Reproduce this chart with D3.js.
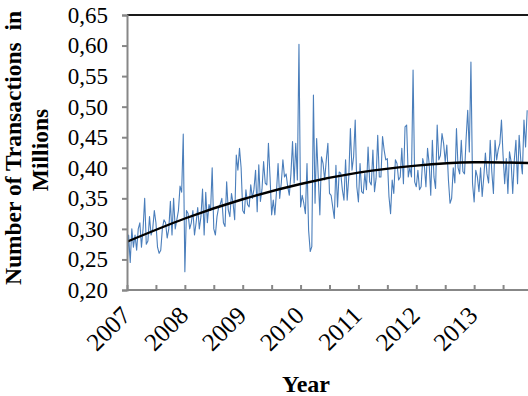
<!DOCTYPE html>
<html>
<head>
<meta charset="utf-8">
<script src="https://cdn.jsdelivr.net/npm/d3@7"></script>
<style>
  html, body { margin: 0; padding: 0; background: #fff; }
  svg text { font-family: 'Liberation Serif', 'Times New Roman', 'DejaVu Serif', serif !important; }
</style>
</head>
<body>
<svg id="chart" width="528" height="396"></svg>
<script>
// ---- data ----
const startYear = 2007;
const samplesPerYear = 36; // three readings per month
const transactions = [
  // 2007
  0.236,0.29,0.245,0.30,0.27,0.29,0.265,0.30,0.31,0.27,
  0.30,0.35,0.275,0.28,0.32,0.29,0.30,0.33,0.31,0.27,
  0.26,0.265,0.30,0.315,0.31,0.285,0.30,0.345,0.29,0.35,
  0.30,0.315,0.33,0.37,0.36,0.455,
  // 2008
  0.23,0.33,0.325,0.30,0.31,0.33,0.29,0.31,0.335,0.30,
  0.32,0.365,0.29,0.36,0.31,0.34,0.33,0.40,0.30,0.29,
  0.32,0.335,0.34,0.35,0.31,
  0.304,0.377,0.331,0.32,0.358,0.342,0.315,0.421,0.396,0.432,
  0.40,
  // 2009
  0.33,0.325,0.364,0.34,0.336,0.372,0.35,0.365,0.396,
  0.328,0.405,0.345,0.365,0.41,0.375,0.372,0.44,0.385,0.323,
  0.347,0.323,0.36,0.407,0.35,0.375,0.413,0.385,0.39,0.369,
  0.355,0.39,0.443,0.375,0.44,0.38,0.602,
  // 2010
  0.336,0.355,0.342,
  0.325,0.407,0.298,0.263,0.271,0.519,0.342,0.448,0.385,0.323,
  0.418,0.407,
  0.38,0.413,0.44,0.358,0.355,0.336,0.317,0.404,0.336,0.393,
  0.391,0.364,0.347,0.413,0.347,0.385,0.464,0.396,0.418,0.478,
  0.369,
  // 2011
  0.344,0.407,0.361,0.358,0.391,0.364,0.434,0.377,0.372,
  0.429,0.361,0.383,0.453,0.385,0.385,0.451,0.429,0.413,0.415,
  0.353,0.325,0.38,0.358,0.413,0.407,0.38,0.385,0.432,0.374,
  0.467,0.47,0.385,0.40,0.385,0.56,0.377,
  // 2012
  0.369,0.396,0.364,0.369,0.415,0.404,
  0.369,0.432,0.407,0.355,0.445,0.385,0.366,0.47,0.413,0.42,
  0.456,0.44,0.41,0.437,0.38,0.342,0.35,0.40,0.375,0.464,
  0.40,0.39,0.445,0.394,0.39,0.448,0.494,0.426,0.573,0.374,
  // 2013
  0.344,0.396,0.385,0.361,0.40,0.353,0.385,0.424,0.39,0.375,
  0.445,0.393,0.358,0.445,0.413,0.43,0.44,0.478,0.42,0.374,
  0.415,0.358,0.426,0.41,0.358,0.413,0.445,0.374,0.453,0.413,
  0.39,0.478,0.434,0.494
];
// polynomial trend read at each year start
const trendYears  = [2007, 2008, 2009, 2010, 2011, 2012, 2013, 2014];
const trendValues = [0.279, 0.317, 0.3485, 0.3735, 0.392, 0.4035, 0.409, 0.4075];
const yearLabels = [2007, 2008, 2009, 2010, 2011, 2012, 2013];
const minorTicks = [2007, 2007.5, 2008, 2008.5, 2009, 2009.5, 2010, 2010.5, 2011, 2011.5, 2012, 2012.5, 2013, 2013.5];
const yTicks = [0.20, 0.25, 0.30, 0.35, 0.40, 0.45, 0.50, 0.55, 0.60, 0.65];
const yTitle1 = "Number of Transactions  in";
const yTitle2 = "Millions";
const xTitle = "Year";

// ---- layout ----
const svg = d3.select("#chart");
const padL = 127, padT = 15, padB = 290, padR = 528;
const x = d3.scaleLinear().domain([2007, 2014]).range([padL, 532]);
const y = d3.scaleLinear().domain([0.20, 0.65]).range([padB, padT]);

svg.append("defs").append("clipPath").attr("id", "plotclip")
  .append("rect").attr("x", padL).attr("y", padT - 2).attr("width", padR - padL).attr("height", padB - padT + 4);

const axisColor = "#878787";

// top border
svg.append("line").attr("x1", padL).attr("x2", padR).attr("y1", y(0.65)).attr("y2", y(0.65))
  .attr("stroke", "#1a1a1a").attr("stroke-width", 1.8);

// data series
const pts = transactions.map((v, i) => [startYear + i / samplesPerYear, v]);
svg.append("path")
  .datum(pts)
  .attr("clip-path", "url(#plotclip)")
  .attr("fill", "none")
  .attr("stroke", "#4a7ebb")
  .attr("stroke-width", 1.1)
  .attr("stroke-linejoin", "round")
  .attr("d", d3.line().x(d => x(d[0])).y(d => y(d[1])));

// trend line
svg.append("path")
  .datum(trendYears.map((t, i) => [t, trendValues[i]]))
  .attr("clip-path", "url(#plotclip)")
  .attr("fill", "none")
  .attr("stroke", "#000")
  .attr("stroke-width", 2.4)
  .attr("d", d3.line().curve(d3.curveNatural).x(d => x(d[0])).y(d => y(d[1])));

// y axis
const yAxis = svg.append("g").attr("transform", `translate(${padL},0)`)
  .call(d3.axisLeft(y).tickValues(yTicks).tickSize(5).tickPadding(14)
    .tickFormat(d => d3.format(".2f")(d).replace(".", ",")));
yAxis.attr("font-family", null);
yAxis.select(".domain").attr("stroke", axisColor).attr("stroke-width", 2);
yAxis.selectAll(".tick line").attr("stroke", axisColor).attr("stroke-width", 2);
yAxis.selectAll(".tick text").attr("font-size", 23).attr("fill", "#000");

// x axis (ticks point inward)
const xAxis = svg.append("g").attr("transform", `translate(0,${padB})`)
  .call(d3.axisBottom(x).tickValues(minorTicks).tickSizeInner(-5).tickSizeOuter(0).tickFormat(""));
xAxis.select(".domain").attr("stroke", axisColor).attr("stroke-width", 2)
  .attr("d", `M${padL},0H${padR}`);
xAxis.selectAll(".tick line").attr("stroke", axisColor).attr("stroke-width", 2);

// x labels
svg.append("g").selectAll("text").data(yearLabels).join("text")
  .attr("transform", d => `translate(${x(d) + 5},${padB + 27}) rotate(-45)`)
  .attr("text-anchor", "end")
  .attr("font-size", 25)
  .attr("fill", "#000")
  .text(d => d);

// axis titles
svg.append("text")
  .attr("transform", `translate(21,148) rotate(-90)`)
  .attr("text-anchor", "middle")
  .attr("font-size", 23.5).attr("font-weight", "bold")
  .attr("xml:space", "preserve").style("white-space", "pre")
  .text(yTitle1);
svg.append("text")
  .attr("transform", `translate(48,150) rotate(-90)`)
  .attr("text-anchor", "middle")
  .attr("font-size", 23.5).attr("font-weight", "bold")
  .text(yTitle2);
svg.append("text")
  .attr("x", 306).attr("y", 392)
  .attr("text-anchor", "middle")
  .attr("font-size", 24).attr("font-weight", "bold")
  .text(xTitle);
</script>
</body>
</html>
